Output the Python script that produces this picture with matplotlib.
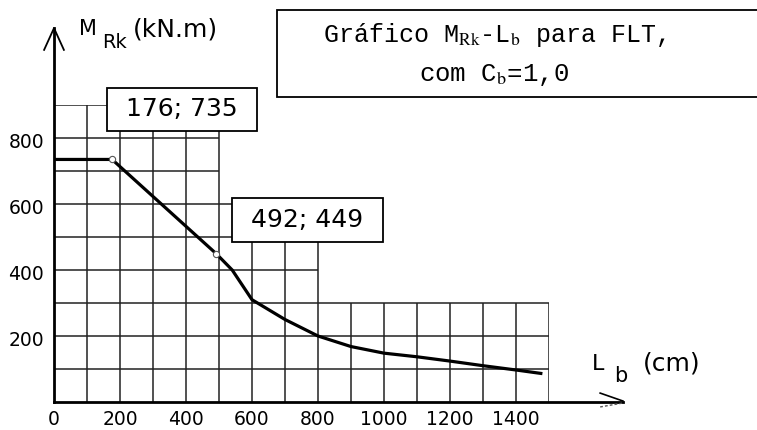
import matplotlib
matplotlib.use("Agg")
import matplotlib.pyplot as plt
import matplotlib.transforms as mtransforms
from matplotlib.patches import Rectangle

# ---------------- data ----------------
Lb_cm = [0, 176, 492, 540, 600, 700, 800, 900, 1000, 1100, 1200, 1300, 1400, 1480]
MRk_kNm = [735, 735, 449, 400, 310, 250, 200, 168, 148, 137, 124, 110, 97, 86]
marked_Lb = [176, 492]
marked_MRk = [735, 449]
x_ticks = [0, 200, 400, 600, 800, 1000, 1200, 1400]
y_ticks = [200, 400, 600, 800]
title_line1 = r"Gráfico M$_{\mathrm{Rk}}$-L$_{\mathrm{b}}$ para FLT,"
title_line2 = r"com C$_{\mathrm{b}}$=1,0"

W, H = 757, 430
fig = plt.figure(figsize=(W / 100, H / 100), dpi=100)
fig.patch.set_facecolor("white")


def fx(x):
    return x / W


def fy(y):
    return 1 - y / H


# axes: data x 0..1500 -> px 54..549, data y 0..900 -> px 402..105
ax = fig.add_axes([fx(54), fy(402), (549 - 54) / W, (402 - 105) / H])
ax.set_xlim(0, 1500)
ax.set_ylim(0, 900)
for s in ax.spines.values():
    s.set_visible(False)
ax.set_facecolor("none")

# irregular grid (partly hidden by the annotation boxes)
gk = dict(color="#222222", lw=1.1, zorder=1)
ax.vlines([100], 0, 900, **gk)
ax.vlines([200, 300, 400, 500], 0, 821, **gk)
ax.vlines([600, 700, 800], 0, 485, **gk)
ax.vlines([900, 1000, 1100, 1200, 1300, 1400, 1500], 0, 300, **gk)
ax.hlines([100, 200, 300], 0, 1500, **gk)
ax.hlines([400], 0, 800, **gk)
ax.hlines([500, 600], 0, 539, **gk)
ax.hlines([700, 800], 0, 500, **gk)
ax.hlines([900], 0, 161, **gk)

# axes lines with arrows
ax.plot([0, 0], [0, 1133], color="black", lw=2.0, clip_on=False, zorder=3)
ax.plot([-30, 0, 30], [1067, 1133, 1067], color="black", lw=1.3, clip_on=False, zorder=3)
ax.plot([0, 1724], [0, 0], color="black", lw=2.0, clip_on=False, zorder=3)
ax.plot([1655, 1724], [27, 3], color="black", lw=1.2, clip_on=False, zorder=3)
ax.plot([1655, 1724], [-15, -3], color="#555555", lw=1.0, ls=(0, (2, 1.5)), clip_on=False, zorder=3)

# curve
ax.plot(Lb_cm, MRk_kNm, color="black", lw=2.3, solid_joinstyle="round",
        solid_capstyle="butt", zorder=4)
ax.plot(marked_Lb, marked_MRk, ls="none", marker="o", ms=4.5, mfc="white",
        mec="#555555", mew=0.8, zorder=5)

# ticks
ax.set_xticks(x_ticks)
ax.set_xticklabels([str(v) for v in x_ticks])
ax.set_yticks(y_ticks)
ax.set_yticklabels([str(v) for v in y_ticks])
ax.tick_params(axis="both", length=0, labelsize=13.5, colors="black")
ax.tick_params(axis="x", pad=6)
ax.tick_params(axis="y", pad=7)
off = mtransforms.ScaledTranslation(0, -3 / 100, fig.dpi_scale_trans)
for lbl in ax.get_yticklabels():
    lbl.set_transform(lbl.get_transform() + off)

# annotation boxes
boxes = [(161, 821, 615, 952), (539, 485, 997, 618)]
for (x0, y0, x1, y1), px_, py_ in zip(boxes, marked_Lb, marked_MRk):
    ax.add_patch(Rectangle((x0, y0), x1 - x0, y1 - y0, facecolor="white",
                           edgecolor="black", lw=1.3, clip_on=False, zorder=6))
    ax.text((x0 + x1) / 2, (y0 + y1) / 2, f"{px_}; {py_}", ha="center",
            va="center", fontsize=18, zorder=7, clip_on=False)

# title box (right edge runs off the canvas)
fig.patches.append(Rectangle((fx(277), fy(97)), (770 - 277) / W, (97 - 10) / H,
                             transform=fig.transFigure, facecolor="white",
                             edgecolor="black", lw=1.3))
fig.text(fx(494), fy(42), title_line1, ha="center", va="baseline",
         family="Liberation Mono", math_fontfamily="stix", fontsize=18)
fig.text(fx(494), fy(81), title_line2, ha="center", va="baseline",
         family="Liberation Mono", math_fontfamily="stix", fontsize=18.5)

# axis labels
fig.text(fx(79), fy(35), "M", fontsize=15, va="baseline")
fig.text(fx(102), fy(48), "Rk", fontsize=14, va="baseline")
fig.text(fx(133), fy(36), "(kN.m)", fontsize=18, va="baseline")
fig.text(fx(592), fy(370), "L", fontsize=16, va="baseline")
fig.text(fx(614), fy(382), "b", fontsize=15, va="baseline")
fig.text(fx(643), fy(370), "(cm)", fontsize=18, va="baseline")

fig.savefig("out.png", dpi=100)
